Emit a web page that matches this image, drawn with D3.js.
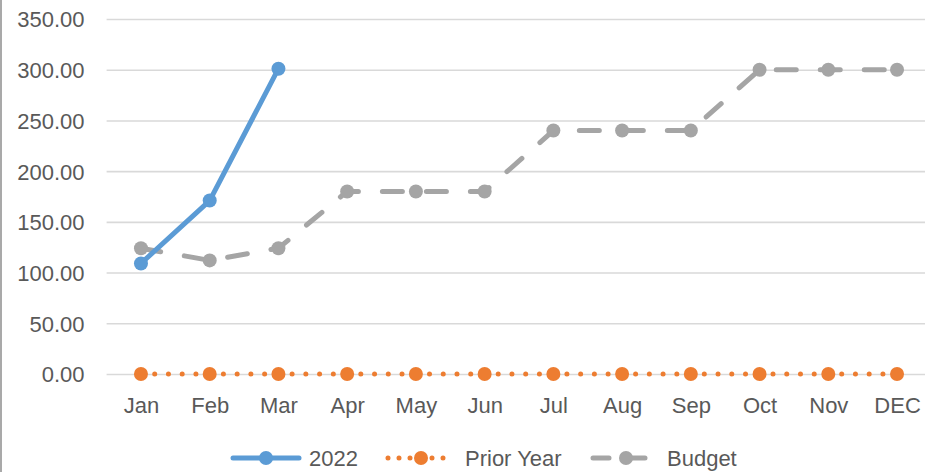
<!DOCTYPE html>
<html>
<head>
<meta charset="utf-8">
<script src="https://cdn.jsdelivr.net/npm/d3@7/dist/d3.min.js"></script>
<style>
  html, body { margin: 0; padding: 0; background: #fff; }
  svg { display: block; }
  text { font-family: "Liberation Sans", Arial, sans-serif; fill: #595959; }
</style>
</head>
<body>
<svg id="chart" width="925" height="472"></svg>
<script>
// Monthly categories and series values
const months = ["Jan", "Feb", "Mar", "Apr", "May", "Jun", "Jul", "Aug", "Sep", "Oct", "Nov", "DEC"];
const actual2022 = [109, 171, 301];
const priorYear = [0, 0, 0, 0, 0, 0, 0, 0, 0, 0, 0, 0];
const budget = [124, 112, 124, 180, 180, 180, 240, 240, 240, 300, 300, 300];
const yTicks = [0, 50, 100, 150, 200, 250, 300, 350];

const seriesNames = ["2022", "Prior Year", "Budget"];
const seriesColors = ["#5b9bd5", "#ed7d31", "#a5a5a5"];

(function () {
  const svg = d3.select("#chart");
  const W = 925, H = 472;
  const lw = 5;

  // Plot area
  const plotLeft = 106.6, plotRight = 931.4, plotTop = 19, plotBottom = 374;

  const x = d3.scalePoint().domain(months).range([plotLeft, plotRight]).padding(0.5);
  const y = d3.scaleLinear().domain([0, 350]).range([plotBottom, plotTop]);

  // Outer frame edge on the left
  svg.append("line")
    .attr("x1", 1).attr("x2", 1).attr("y1", 0).attr("y2", H)
    .attr("stroke", "#8c8c8c").attr("stroke-width", 1.5);

  // Horizontal gridlines with value labels
  const yAxis = d3.axisLeft(y).tickValues(yTicks).tickSize(-(plotRight - plotLeft)).tickFormat(d3.format(".2f"));
  const gy = svg.append("g").attr("transform", `translate(${plotLeft},0)`).call(yAxis);
  gy.select(".domain").remove();
  gy.selectAll(".tick line").attr("stroke", "#d9d9d9").attr("stroke-width", 1.6);
  gy.selectAll(".tick text")
    .attr("x", -22).attr("dy", "0.36em")
    .style("font-size", "22px").style("fill", "#595959")
    .style("font-family", "'Liberation Sans', Arial, sans-serif");

  // Category axis labels
  const xAxis = d3.axisBottom(x).tickSize(0).tickPadding(0);
  const gx = svg.append("g").attr("transform", `translate(0,${plotBottom})`).call(xAxis);
  gx.select(".domain").remove();
  gx.selectAll(".tick text")
    .attr("y", 39).attr("dy", 0)
    .style("font-size", "22px").style("fill", "#595959")
    .style("font-family", "'Liberation Sans', Arial, sans-serif");

  const line = d3.line().x((d, i) => x(months[i])).y(d => y(d));

  // Budget: long dashes
  svg.append("path").datum(budget)
    .attr("d", line).attr("fill", "none")
    .attr("stroke", seriesColors[2]).attr("stroke-width", lw)
    .attr("stroke-linecap", "round").attr("stroke-dasharray", "20,24");
  svg.append("g").selectAll("circle").data(budget).join("circle")
    .attr("cx", (d, i) => x(months[i])).attr("cy", d => y(d)).attr("r", 7)
    .attr("fill", seriesColors[2]);

  // Prior year: round dots
  svg.append("path").datum(priorYear)
    .attr("d", line).attr("fill", "none")
    .attr("stroke", seriesColors[1]).attr("stroke-width", lw)
    .attr("stroke-linecap", "round").attr("stroke-dasharray", "0,13.74");
  svg.append("g").selectAll("circle").data(priorYear).join("circle")
    .attr("cx", (d, i) => x(months[i])).attr("cy", d => y(d)).attr("r", 7)
    .attr("fill", seriesColors[1]);

  // 2022: solid line
  svg.append("path").datum(actual2022)
    .attr("d", line).attr("fill", "none")
    .attr("stroke", seriesColors[0]).attr("stroke-width", lw)
    .attr("stroke-linejoin", "round").attr("stroke-linecap", "round");
  svg.append("g").selectAll("circle").data(actual2022).join("circle")
    .attr("cx", (d, i) => x(months[i])).attr("cy", d => y(d)).attr("r", 7)
    .attr("fill", seriesColors[0]);

  // Legend
  const legendY = 458;
  const legendItems = [
    { name: seriesNames[0], color: seriesColors[0], x0: 233, dash: null, tx: 309 },
    { name: seriesNames[1], color: seriesColors[1], x0: 388, dash: "0,11", tx: 465 },
    { name: seriesNames[2], color: seriesColors[2], x0: 593, dash: "16,20", tx: 667 }
  ];
  const lg = svg.append("g");
  legendItems.forEach(it => {
    const g = lg.append("g");
    g.append("line")
      .attr("x1", it.x0).attr("x2", it.x0 + 66).attr("y1", legendY).attr("y2", legendY)
      .attr("stroke", it.color).attr("stroke-width", lw).attr("stroke-linecap", "round")
      .attr("stroke-dasharray", it.dash);
    g.append("circle").attr("cx", it.x0 + 33).attr("cy", legendY).attr("r", 7).attr("fill", it.color);
    g.append("text").attr("x", it.tx).attr("y", legendY).attr("dy", "0.36em")
      .style("font-size", "22px").text(it.name);
  });
})();
</script>
</body>
</html>
